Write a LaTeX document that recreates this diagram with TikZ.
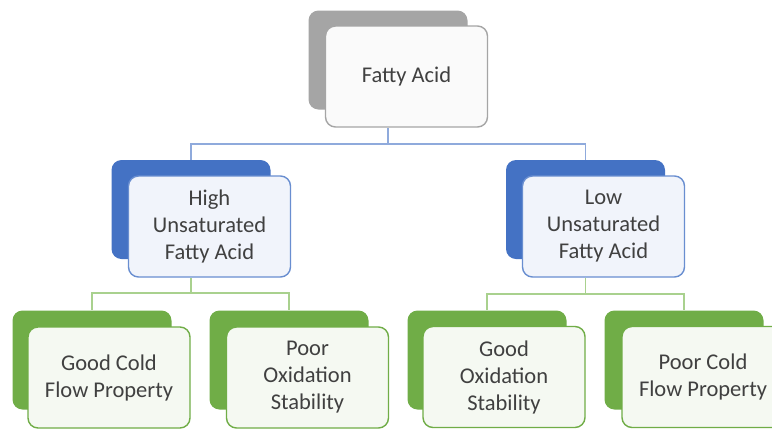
\documentclass[tikz,border=0pt]{standalone}
\usepackage{fontspec}
\setmainfont{Carlito}
\definecolor{txt}{HTML}{404040}
\definecolor{grayback}{HTML}{A5A5A5}
\definecolor{grayfront}{HTML}{FAFAFA}
\definecolor{blueback}{HTML}{4472C4}
\definecolor{bluefront}{HTML}{F1F4FB}
\definecolor{blueline}{HTML}{8FAADC}
\definecolor{greenback}{HTML}{70AD47}
\definecolor{greenfront}{HTML}{F5F9F2}
\definecolor{greenline}{HTML}{A9D18E}
\begin{document}
\begin{tikzpicture}[x=1pt,y=-1pt,
  backbox/.style={rectangle, rounded corners=10pt, minimum width=159pt, minimum height=99pt, inner sep=0pt},
  frontbox/.style={rectangle, rounded corners=10pt, minimum width=162pt, minimum height=101pt, inner sep=0pt,
    line width=1.4pt, align=center, text=txt, font=\fontsize{22.5}{27}\selectfont},
  lvA/.style={backbox, fill=grayback},
  lvAf/.style={frontbox, draw=grayback, fill=grayfront},
  lvB/.style={backbox, fill=blueback},
  lvBf/.style={frontbox, draw=blueback!80, fill=bluefront},
  lvC/.style={backbox, fill=greenback},
  lvCf/.style={frontbox, draw=greenback, fill=greenfront},
  linkB/.style={draw=blueline, line width=1.4pt},
  linkC/.style={draw=greenline, line width=1.4pt}]
\useasboundingbox (0,0) rectangle (772,432);
\fill[white] (0,0) rectangle (772,432);

% bus levels of the tree
\coordinate (busA) at (0,144);
\coordinate (busL) at (0,293);
\coordinate (busR) at (0,294);

% back tiles
\node[lvA] (topB)  at (388,60) {};
\node[lvB] (midLB) at (191,209.5) {};
\node[lvB] (midRB) at (585.5,209.5) {};
\node[lvC] (b1B) at (92,360) {};
\node[lvC] (b2B) at (289,360) {};
\node[lvC] (b3B) at (487,360) {};
\node[lvC] (b4B) at (684,360) {};

% connectors
\draw[linkB] (topB |- 0,128) -- (topB |- busA) -| (midLB.north);
\draw[linkB] (topB |- busA) -| (midRB.north);
\draw[linkC] (midLB |- 0,278) -- (midLB |- busL) -| (b1B.north);
\draw[linkC] (midLB |- busL) -| (b2B.north);
\draw[linkC] (midRB |- 0,278) -- (midRB |- busR) -| (b3B.north);
\draw[linkC] (midRB |- busR) -| (b4B.north);

% front tiles with the labels
\node[lvAf] (topF)  at (406.5,76.5) {Fatty Acid};
\node[lvBf] (midLF) at (209.5,226.5) {High\\Unsaturated\\Fatty Acid};
\node[lvBf] (midRF) at (603.5,226.5) {Low\\Unsaturated\\Fatty Acid};
\node[lvCf] (b1F) at (109,377.5) {Good Cold\\Flow Property};
\node[lvCf] (b2F) at (307.5,377.5) {Poor\\Oxidation\\Stability};
\node[lvCf] (b3F) at (504,377) {Good\\Oxidation\\Stability};
\node[lvCf] (b4F) at (703,377) {Poor Cold\\Flow Property};
\end{tikzpicture}
\end{document}
